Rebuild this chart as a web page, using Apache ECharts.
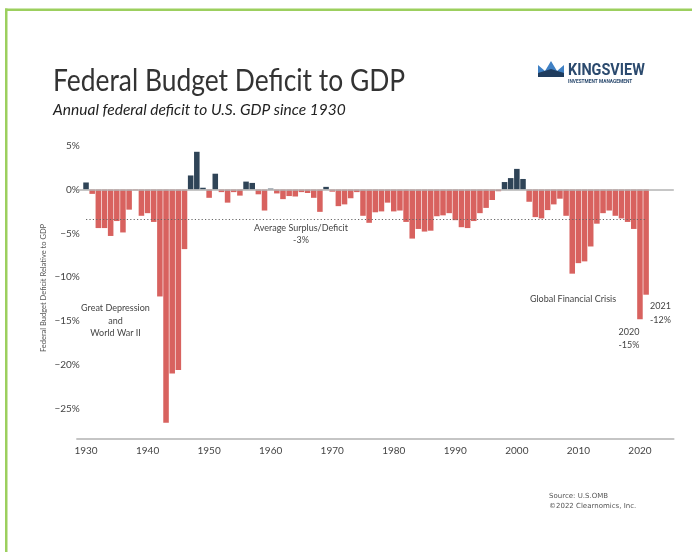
<!DOCTYPE html>
<html>
<head>
<meta charset="utf-8">
<script src="https://cdn.jsdelivr.net/npm/echarts@6/dist/echarts.min.js"></script>
<style>
html,body{margin:0;padding:0;background:#fff;}
#chart{width:692px;height:552px;}
</style>
</head>
<body>
<div id="chart"></div>
<script>
// ---- data ----
const firstYear = 1930;
const deficitPct = [
  0.8, -0.5, -4.4, -4.4, -5.3, -3.6, -4.9, -2.3, -0.1, -3.0,      // 1930s
  -2.7, -3.7, -12.2, -26.6, -21.0, -20.6, -6.8, 1.6, 4.3, 0.2,    // 1940s
  -0.95, 1.8, -0.3, -1.5, -0.3, -0.7, 0.9, 0.75, -0.55, -2.4,     // 1950s
  0.1, -0.45, -1.1, -0.75, -0.8, -0.3, -0.4, -0.95, -2.55, 0.3,   // 1960s
  -0.25, -1.9, -1.7, -1.0, -0.3, -3.0, -3.8, -2.6, -2.5, -1.5,    // 1970s
  -2.5, -2.4, -3.7, -5.6, -4.5, -4.8, -4.7, -3.05, -2.95, -2.7,   // 1980s
  -3.5, -4.3, -4.4, -3.6, -2.7, -2.1, -1.2, -0.2, 0.85, 1.3,      // 1990s
  2.35, 1.2, -1.4, -3.15, -3.3, -2.35, -1.7, -1.05, -3.0, -9.6,   // 2000s
  -8.4, -8.2, -6.5, -3.9, -2.7, -2.4, -3.0, -3.3, -3.7, -4.5,     // 2010s
  -14.8, -12.0                                                    // 2020s
];
const averagePct = -3.4;
const yTicks = [5, 0, -5, -10, -15, -20, -25];
const axisFirstYear = 1929;
const axisLastYear = 2025;

// ---- build category axis & series ----
const categories = [];
for (let y = axisFirstYear; y <= axisLastYear; y++) categories.push(String(y));
const seriesData = categories.map(c => {
  const i = Number(c) - firstYear;
  return (i >= 0 && i < deficitPct.length) ? deficitPct[i] : null;
});
const lastYear = firstYear + deficitPct.length - 1;

const RED = '#d8625f', DARK = '#2f4457';
const FONT = 'Lato';
const SX = 0.9;

function note(x, y, text, align) {
  return {type: 'text', x: x, y: y, scaleX: SX,
    style: {text: text, font: '400 10px ' + FONT, fill: '#444', align: align || 'center', verticalAlign: 'middle'}};
}

const chart = echarts.init(document.getElementById('chart'), null, {renderer: 'canvas'});
chart.setOption({
  backgroundColor: '#ffffff',
  animation: false,
  grid: {left: 76.8, right: 18.2, top: 145.65, bottom: 113.5, containLabel: false},
  xAxis: {
    type: 'category',
    data: categories,
    boundaryGap: true,
    axisLine: {show: true, onZero: false, lineStyle: {color: '#b3b3b3', width: 1.5}},
    axisTick: {show: false},
    axisLabel: {
      interval: (idx, val) => Number(val) % 10 === 0,
      color: '#444', fontSize: 10, fontFamily: FONT, margin: 7
    },
    splitLine: {show: false}
  },
  yAxis: {
    type: 'value',
    min: -28.4, max: 5,
    axisLine: {show: false},
    axisTick: {show: false},
    splitLine: {show: false},
    axisLabel: {
      customValues: yTicks,
      formatter: v => (v < 0 ? '\u2212' : '') + Math.abs(v) + '%',
      color: '#444', fontSize: 10, fontFamily: FONT, margin: -3
    }
  },
  series: [
    {
      type: 'line', data: [], z: 1, silent: true,
      markLine: {
        silent: true, symbol: 'none', label: {show: false},
        data: [{yAxis: 0, lineStyle: {color: '#b3b3b3', width: 1.5, type: 'solid'}}]
      }
    },
    {
      type: 'bar', data: seriesData, z: 2,
      barCategoryGap: '10%',
      itemStyle: {color: p => (p.value >= 0 ? DARK : RED)},
      markLine: {
        silent: true, symbol: 'none', label: {show: false},
        lineStyle: {color: '#666', width: 1, type: [1.2, 2.2]},
        data: [[
          {xAxis: String(firstYear), yAxis: averagePct},
          {xAxis: String(lastYear), yAxis: averagePct}
        ]]
      }
    }
  ],
  graphic: [
    // green frame
    {type: 'rect', shape: {x: 5, y: 8.5, width: 700, height: 2.5}, style: {fill: '#9ccf5e'}, silent: true},
    {type: 'rect', shape: {x: 5, y: 8.5, width: 2.5, height: 560}, style: {fill: '#9ccf5e'}, silent: true},
    // titles
    {type: 'text', x: 53, y: 66, scaleX: 0.88, style: {text: 'Federal Budget Deficit to GDP', font: '400 30px ' + FONT, fill: '#333'}},
    {type: 'text', x: 53, y: 102, scaleX: 0.97, style: {text: 'Annual federal deficit to U.S. GDP since 1930', font: 'italic 400 16px ' + FONT, fill: '#222'}},
    // logo
    {type: 'polygon', shape: {points: [[538,65],[545,71],[551,61],[557,71],[564,65],[564,77],[538,77]]}, style: {fill: '#3f80c4'}},
    {type: 'polygon', shape: {points: [[538,73],[551,69],[564,73],[564,77],[538,77]]}, style: {fill: '#1f3c5e'}},
    {type: 'text', x: 568, y: 62, scaleX: 0.85, style: {text: 'KINGSVIEW', font: '700 17px Roboto', fill: '#2b4a6e'}},
    {type: 'text', x: 568, y: 78.5, scaleX: 0.8, style: {text: 'INVESTMENT MANAGEMENT', font: '700 6px Roboto', fill: '#2b4a6e'}},
    // y axis name
    {type: 'text', x: 43.5, y: 288, rotation: Math.PI / 2, style: {text: 'Federal Budget Deficit Relative to GDP', font: '400 7.5px ' + FONT, fill: '#555', align: 'center', verticalAlign: 'middle'}},
    // annotations
    note(115.5, 308, 'Great Depression'),
    note(115.5, 320.5, 'and'),
    note(115.5, 333, 'World War II'),
    note(301, 228, 'Average Surplus/Deficit'),
    note(301, 239.5, '-3%'),
    note(573, 299, 'Global Financial Crisis'),
    note(650, 306, '2021', 'left'),
    note(650, 319.5, '-12%', 'left'),
    note(629, 331.5, '2020'),
    note(629, 344.5, '-15%'),
    // source
    {type: 'text', x: 549, y: 496, style: {text: 'Source: U.S.OMB', font: '400 7px "DejaVu Sans"', fill: '#555', verticalAlign: 'middle'}},
    {type: 'text', x: 549, y: 506, style: {text: '\u00A92022 Clearnomics, Inc.', font: '400 7px "DejaVu Sans"', fill: '#555', verticalAlign: 'middle'}}
  ]
});
</script>
</body>
</html>
